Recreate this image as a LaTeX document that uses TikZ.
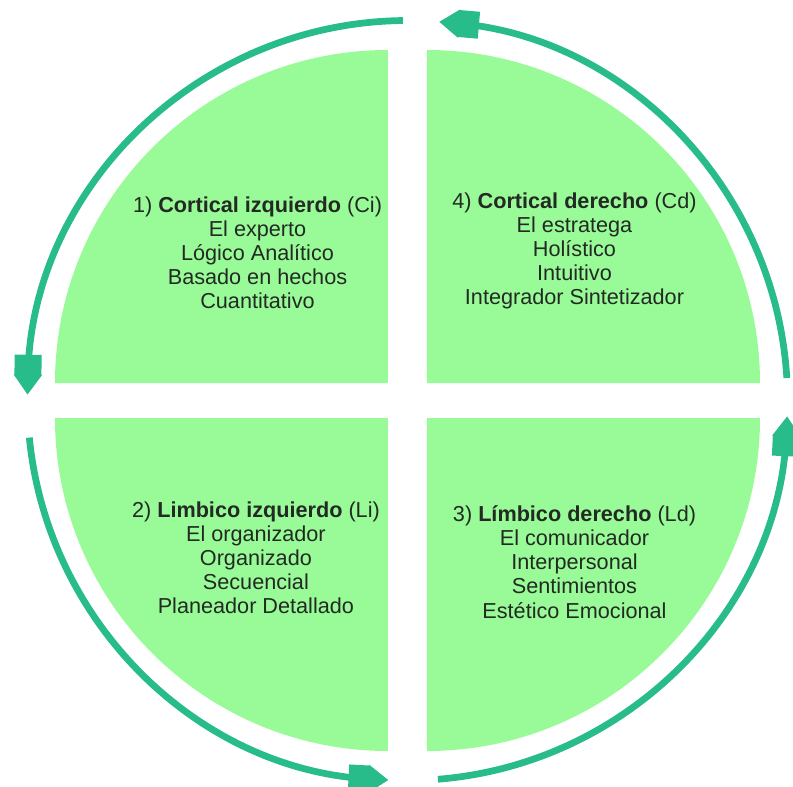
\documentclass[tikz,border=0pt]{standalone}
\usepackage{fontspec}
\setmainfont{Liberation Sans}
\usepackage{tikz}
\usetikzlibrary{arrows.meta}
\usepackage{xcolor}
\definecolor{wedgegreen}{RGB}{152,251,152}
\definecolor{arrowteal}{RGB}{40,188,138}
\definecolor{textdark}{RGB}{35,42,35}

\begin{document}
\begin{tikzpicture}[
  wedge/.style={fill=wedgegreen},
  lbl/.style={align=center, text=textdark, font=\fontsize{15.4}{17.1}\selectfont, inner sep=0pt},
  arr/.style={draw=arrowteal, line width=4.8pt, -{Rectangle[length=5.2mm,width=6.75mm,sep=-0.6pt]Triangle[length=5mm,width=6.75mm,sep=-0.6pt]}}
]
\useasboundingbox (-10.1875,-9.6375) rectangle (9.6375,10.0125);

% inner corners of the four quadrants
\coordinate (ci) at (-0.4875,0.4375);
\coordinate (cd) at (0.4875,0.4375);
\coordinate (li) at (-0.4875,-0.4375);
\coordinate (ld) at (0.4875,-0.4375);

\fill[wedge] (ci) -- ++(0,8.325) arc[start angle=90, end angle=180, radius=8.325] -- cycle;
\fill[wedge] (cd) -- ++(8.325,0) arc[start angle=0, end angle=90, radius=8.325] -- cycle;
\fill[wedge] (li) -- ++(-8.325,0) arc[start angle=180, end angle=270, radius=8.325] -- cycle;
\fill[wedge] (ld) -- ++(0,-8.325) arc[start angle=270, end angle=360, radius=8.325] -- cycle;

\node[lbl] (tci) at (-3.75,3.69) {1) \textbf{Cortical izquierdo} (Ci)\\El experto\\Lógico Analítico\\Basado en hechos\\Cuantitativo};
\node[lbl] (tcd) at (4.175,3.74) {4) \textbf{Cortical derecho} (Cd)\\El estratega\\Holístico\\Intuitivo\\Integrador Sintetizador};
\node[lbl] (tli) at (-3.79,-3.94) {2) \textbf{Limbico izquierdo} (Li)\\El organizador\\Organizado\\Secuencial\\Planeador Detallado};
\node[lbl] (tld) at (4.175,-4.04) {3) \textbf{Límbico derecho} (Ld)\\El comunicador\\Interpersonal\\Sentimientos\\Estético Emocional};

% cycle arrows around the circle
\coordinate (s1) at (90.7:9.5);
\coordinate (s2) at (185.6:9.5);
\coordinate (s3) at (274.6:9.5);
\coordinate (s4) at (3.4:9.5);
\draw[arr] (s1) arc[start angle=90.7, end angle=179, radius=9.5];
\draw[arr] (s2) arc[start angle=185.6, end angle=267, radius=9.5];
\draw[arr] (s3) arc[start angle=274.6, end angle=357.5, radius=9.5];
\draw[arr] (s4) arc[start angle=3.4, end angle=85.1, radius=9.5];
\end{tikzpicture}
\end{document}
